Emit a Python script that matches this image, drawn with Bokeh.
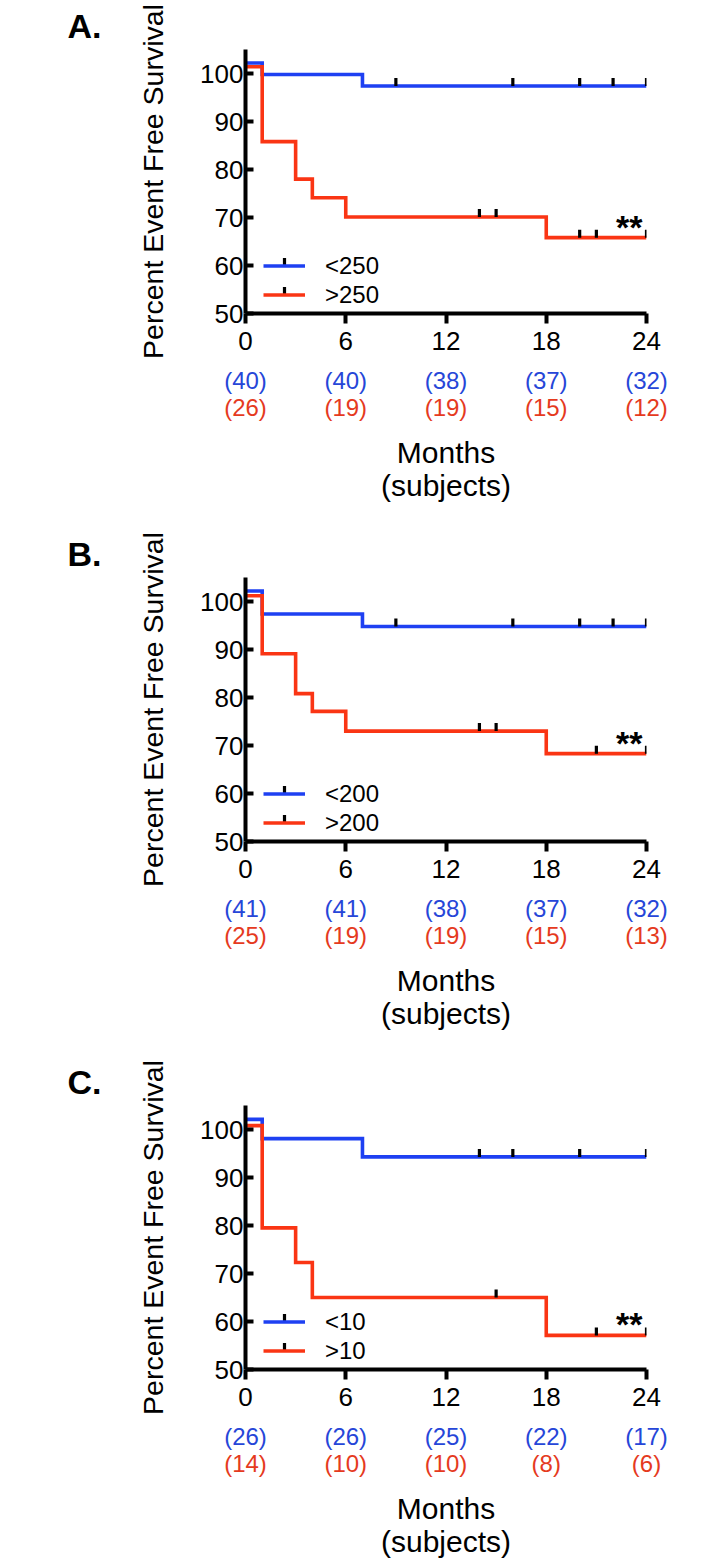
import numpy as np
from bokeh.plotting import figure
from bokeh.models import (Range1d, LinearAxis, FixedTicker, Legend, LegendItem, Label, Title,
                          BoxAnnotation)
from bokeh.layouts import column
from bokeh.embed import file_html
from bokeh.resources import INLINE

FONT = "Liberation Sans"
BLUE = "#1e40f2"
RED = "#fa3514"
BLUE_TXT = "#2646d8"
RED_TXT = "#e53a1e"

# ---------------- data ----------------
month_ticks = [0, 6, 12, 18, 24]
y_ticks = [50, 60, 70, 80, 90, 100]
panel_letters = ["A.", "B.", "C."]
low_names = ["<250", "<200", "<10"]
high_names = [">250", ">200", ">10"]

# Panel A
a_low_t = [0, 1, 7, 24]
a_low_s = [102.2, 99.8, 97.4, 97.4]
a_high_t = [0, 1, 3, 4, 6, 18, 24]
a_high_s = [101.4, 85.8, 78.0, 74.1, 70.1, 65.8, 65.8]
a_low_cens = [9, 16, 20, 22, 24]
a_high_cens = [14, 15, 20, 21, 24]
a_low_risk = ["(40)", "(40)", "(38)", "(37)", "(32)"]
a_high_risk = ["(26)", "(19)", "(19)", "(15)", "(12)"]

# Panel B
b_low_t = [0, 1, 7, 24]
b_low_s = [102.2, 97.4, 94.8, 94.8]
b_high_t = [0, 1, 3, 4, 6, 18, 24]
b_high_s = [101.2, 89.1, 80.8, 77.1, 73.0, 68.3, 68.3]
b_low_cens = [9, 16, 20, 22, 24]
b_high_cens = [14, 15, 21, 24]
b_low_risk = ["(41)", "(41)", "(38)", "(37)", "(32)"]
b_high_risk = ["(25)", "(19)", "(19)", "(15)", "(13)"]

# Panel C
c_low_t = [0, 1, 7, 24]
c_low_s = [102.1, 98.1, 94.3, 94.3]
c_high_t = [0, 1, 3, 4, 18, 24]
c_high_s = [100.8, 79.5, 72.3, 65.0, 57.1, 57.1]
c_low_cens = [14, 16, 20, 24]
c_high_cens = [15, 21, 24]
c_low_risk = ["(26)", "(26)", "(25)", "(22)", "(17)"]
c_high_risk = ["(14)", "(10)", "(10)", "(8)", "(6)"]

panels = [
    (a_low_t, a_low_s, a_high_t, a_high_s, a_low_cens, a_high_cens, a_low_risk, a_high_risk),
    (b_low_t, b_low_s, b_high_t, b_high_s, b_low_cens, b_high_cens, b_low_risk, b_high_risk),
    (c_low_t, c_low_s, c_high_t, c_high_s, c_low_cens, c_high_cens, c_low_risk, c_high_risk),
]

# ---------------- layout ----------------
W = 726
HEIGHTS = [528, 528, 511]
BORDER_L, BORDER_T = 245, 48
FRAME_W, FRAME_H = 401, 265
BORDER_R = W - BORDER_L - FRAME_W
YMIN, YMAX = 50, 105
PX_PER_UNIT = FRAME_H / (YMAX - YMIN)
CENS_LEN = 8  # px
LEG_X, LEG_Y = 18, 4
GLYPH_W, ROW_H = 42, 29


def surv_at(ts, ss, t):
    v = ss[0]
    for ti, si in zip(ts, ss):
        if ti <= t:
            v = si
    return v


def make_panel(i):
    lt, ls, ht, hs, lc, hc, lrisk, hrisk = panels[i]
    H = HEIGHTS[i]
    p = figure(width=W, height=H, output_backend="svg", toolbar_location=None,
               x_range=Range1d(0, 24), y_range=Range1d(YMIN, YMAX),
               min_border_left=BORDER_L, min_border_right=BORDER_R,
               min_border_top=BORDER_T, min_border_bottom=H - BORDER_T - FRAME_H)
    p.outline_line_color = None
    p.grid.visible = False
    p.background_fill_color = "white"
    p.border_fill_color = "white"

    # panel letter as title
    t = Title(text=panel_letters[i], align="left", offset=-178, standoff=9,
              text_font=FONT, text_font_size="34px", text_font_style="bold",
              text_color="black", vertical_align="bottom")
    p.add_layout(t, "above")

    # survival curves
    r_low = p.step(lt, ls, mode="after", line_color=BLUE, line_width=3.6, line_join="miter")
    r_high = p.step(ht, hs, mode="after", line_color=RED, line_width=3.6, line_join="miter")

    off = (CENS_LEN / 2) / PX_PER_UNIT
    p.scatter(lc, [surv_at(lt, ls, t) + off for t in lc], marker="dash",
              angle=np.pi / 2, size=CENS_LEN, line_color="black", line_width=3.2)
    p.scatter(hc, [surv_at(ht, hs, t) + off for t in hc], marker="dash",
              angle=np.pi / 2, size=CENS_LEN, line_color="black", line_width=3.2)

    # axes
    xa = p.xaxis[0]
    xa.ticker = FixedTicker(ticks=month_ticks)
    xa.axis_line_width = 4
    xa.major_tick_line_width = 4
    xa.major_tick_out = 10
    xa.major_tick_in = 0
    xa.minor_tick_line_color = None
    xa.major_label_text_font = FONT
    xa.major_label_text_font_size = "26px"
    xa.major_label_text_color = "black"
    xa.major_label_standoff = 8

    ya = p.yaxis[0]
    ya.ticker = FixedTicker(ticks=y_ticks)
    ya.axis_line_width = 4
    ya.major_tick_line_width = 4
    ya.major_tick_out = 0
    ya.major_tick_in = 8
    ya.minor_tick_line_color = None
    ya.major_label_text_font = FONT
    ya.major_label_text_font_size = "26px"
    ya.major_label_text_color = "black"
    ya.major_label_standoff = 2
    ya.axis_label = "Percent Event Free Survival"
    ya.axis_label_text_font = FONT
    ya.axis_label_text_font_size = "28.5px"
    ya.axis_label_text_font_style = "normal"
    ya.axis_label_text_color = "black"
    ya.axis_label_standoff = 28

    # numbers at risk as extra axes
    for k, (labels, col, standoff) in enumerate([(lrisk, BLUE_TXT, 14), (hrisk, RED_TXT, -3)]):
        ax = LinearAxis(ticker=FixedTicker(ticks=month_ticks),
                        major_label_overrides={t: s for t, s in zip(month_ticks, labels)})
        ax.axis_line_color = None
        ax.major_tick_line_color = None
        ax.minor_tick_line_color = None
        ax.major_tick_out = 0
        ax.major_tick_in = 0
        ax.major_label_standoff = standoff
        ax.major_label_text_font = FONT
        ax.major_label_text_font_size = "24px"
        ax.major_label_text_color = col
        if k == 1:
            ax.axis_label = "Months\n(subjects)"
            ax.axis_label_text_font = FONT
            ax.axis_label_text_font_size = "30px"
            ax.axis_label_text_font_style = "normal"
            ax.axis_label_text_color = "black"
            ax.axis_label_text_line_height = 1.0
            ax.axis_label_standoff = 12
        p.add_layout(ax, "below")

    # legend (lines + labels)
    legend = Legend(items=[LegendItem(label=low_names[i], renderers=[r_low]),
                           LegendItem(label=high_names[i], renderers=[r_high])],
                    location=(LEG_X, LEG_Y), orientation="vertical",
                    glyph_width=GLYPH_W, glyph_height=ROW_H, label_height=ROW_H,
                    label_standoff=20, spacing=0, padding=0, margin=0,
                    label_text_font=FONT, label_text_font_size="24px",
                    label_text_color="black",
                    border_line_color=None, background_fill_alpha=0)
    p.add_layout(legend, "center")

    # legend censor marks: small black bars above each legend line (frame-relative px)
    cx = LEG_X + GLYPH_W / 2
    for row in (1.5, 0.5):
        cy = LEG_Y + ROW_H * row
        p.add_layout(BoxAnnotation(left=cx - 1.6, right=cx + 1.6, bottom=cy, top=cy + CENS_LEN,
                                   left_units="screen", right_units="screen",
                                   bottom_units="screen", top_units="screen",
                                   fill_color="black", fill_alpha=1.0, line_color=None))

    # significance
    p.add_layout(Label(x=24, y=hs[-1], x_offset=-4, y_offset=11, text="**",
                       text_align="right", text_baseline="alphabetic",
                       text_font=FONT, text_font_size="34px", text_font_style="bold",
                       text_color="black"))
    return p


figs = [make_panel(i) for i in range(3)]
layout = column(*figs, spacing=0)
open("out.html", "w").write(file_html(layout, INLINE))
